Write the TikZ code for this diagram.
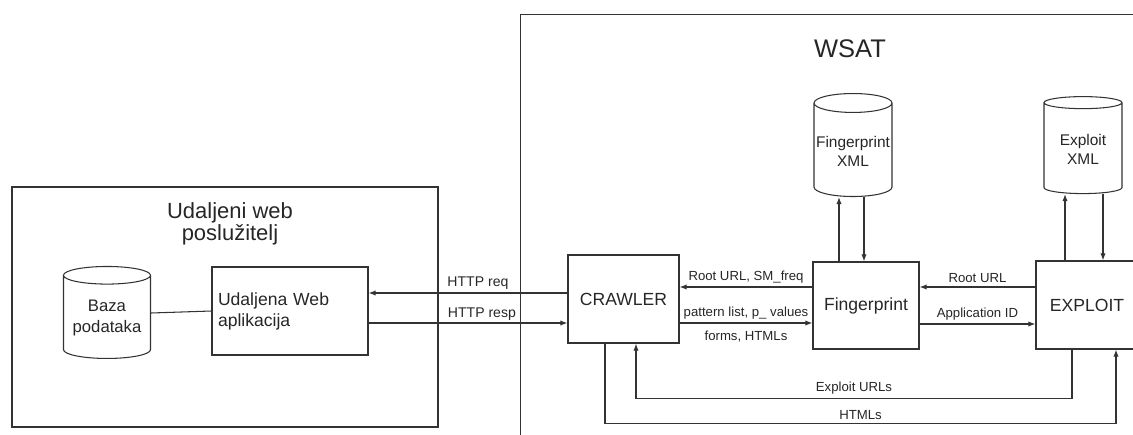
\documentclass[tikz,border=0pt]{standalone}
\usepackage{fontspec}
\setmainfont{Liberation Sans}
\usepackage{tikz}
\usetikzlibrary{arrows.meta,shapes.geometric,positioning,calc}

\begin{document}
\begin{tikzpicture}[
    x=0.02cm, y=-0.02cm,
    box/.style={draw=black!80, line width=0.7pt, text=black!85, align=center, font=\fontsize{10}{12}\selectfont},
    dbs/.style={draw=black!80, line width=0.6pt, cylinder, shape border rotate=90, aspect=0.25, text=black!85, align=center, inner sep=0.5pt, font=\fontsize{8.8}{10.8}\selectfont},
    arr/.style={-{Latex[length=4pt,width=3pt]}, draw=black!80, line width=0.6pt},
    lbl/.style={font=\fontsize{7.5}{9}\selectfont, text=black!85, inner sep=2pt}
]
\useasboundingbox (0,0) rectangle (1133,434);

\node[box, minimum width=8.52cm, minimum height=4.8cm] (srv) at (225,307) {};
\node[text=black!85, align=center, font=\fontsize{12.5}{12.5}\selectfont] (srvtitle) at (230,224) {Udaljeni web\\poslužitelj};
\node[dbs, minimum width=1.74cm, minimum height=1.84cm, font=\fontsize{9.5}{12}\selectfont] (db) at (107,318) {Baza\\podataka};
\node[box, minimum width=3.12cm, minimum height=1.76cm, text width=2.88cm, align=left] (webapp) at (290,311) {Udaljena Web\\aplikacija};

\node[box, minimum width=12.6cm, minimum height=8.8cm, anchor=north west] (wsat) at (520,14) {};
\node[text=black!85, font=\fontsize{14.5}{16}\selectfont] (wsattitle) at (850,49) {WSAT};

\node[box, minimum width=2.22cm, minimum height=1.76cm] (crawler) at (623.5,299) {CRAWLER};
\node[box, minimum width=2.12cm, minimum height=1.74cm] (fp) at (866,305.5) {Fingerprint};
\node[box, minimum width=2.04cm, minimum height=1.76cm] (exploit) at (1087,305) {EXPLOIT};
\node[dbs, minimum width=1.56cm, minimum height=2.06cm] (fpxml) at (853,151) {Fingerprint\\XML};
\node[dbs, minimum width=1.56cm, minimum height=1.94cm] (exxml) at (1083,149) {Exploit\\XML};

\draw[draw=black!80, line width=0.6pt] ($(db.east)+(0,-5)$) -- (webapp.west);
\draw[arr] (crawler.west |- 0,293) -- node[lbl, above, pos=.45, font=\fontsize{8}{9}\selectfont] {HTTP req} (webapp.east |- 0,293);
\draw[arr] (webapp.east |- 0,323) -- node[lbl, above, pos=.57, inner sep=1pt, font=\fontsize{8}{9}\selectfont] {HTTP resp} (crawler.west |- 0,323);

\draw[arr] (fp.west |- 0,287) -- node[lbl, above] {Root URL, SM\_freq} (crawler.east |- 0,287);
\draw[arr] (crawler.east |- 0,323) -- node[lbl, above] {pattern list, p\_ values} node[lbl, below, yshift=-2pt] {forms, HTMLs} (fp.west |- 0,323);
\draw[arr] (exploit.west |- 0,287) -- node[lbl, above] {Root URL} (fp.east |- 0,287);
\draw[arr] (fp.east |- 0,324) -- node[lbl, above] {Application ID} (exploit.west |- 0,324);

\draw[arr] (fp.north -| 839,0) -- (fpxml.south -| 839,0);
\draw[arr] (fpxml.south -| 864,0) -- (fp.north -| 864,0);
\draw[arr] (exploit.north -| 1065,0) -- (exxml.south -| 1065,0);
\draw[arr] (exxml.south -| 1103,0) -- (exploit.north -| 1103,0);

\draw[arr] (exploit.south -| 1072,0) -- ++(0,49) -| node[lbl, above, pos=.25] {Exploit URLs} (crawler.south -| 636,0);
\draw[arr] (crawler.south -| 605,0) -- ++(0,80) -| node[lbl, above, pos=.25] {HTMLs} (exploit.south -| 1116,0);
\end{tikzpicture}
\end{document}
